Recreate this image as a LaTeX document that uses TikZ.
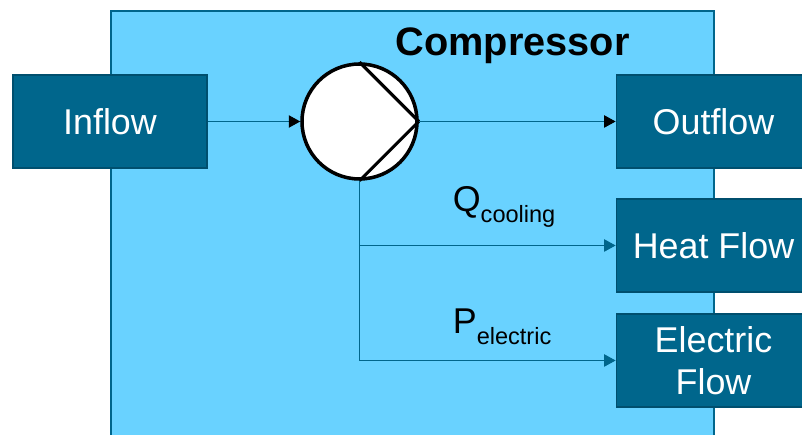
\documentclass[tikz,border=0pt]{standalone}
\usepackage{fontspec}
\setmainfont{Liberation Sans}
\usepackage{tikz}
\usetikzlibrary{arrows.meta}
\definecolor{compfill}{HTML}{69D2FF}
\definecolor{flowfill}{HTML}{00668C}
\definecolor{flowedge}{HTML}{004F6E}
\newcommand{\flowsub}[2]{#1\raisebox{-0.3em}{\fontsize{13.4}{16}\selectfont #2}}
\tikzset{
  flowbox/.style={draw=flowedge,line width=1pt,fill=flowfill,text=white,minimum width=3.88cm,minimum height=1.86cm,inner sep=0pt,align=center,font=\fontsize{20.4}{24}\selectfont},
  blackflow/.style={draw=flowfill,line width=0.6pt,-{Triangle[length=6.5pt,width=7pt,black]}},
  tealflow/.style={draw=flowfill,line width=0.6pt,-{Triangle[length=6.5pt,width=7pt,flowfill]}},
  sublabel/.style={anchor=base west,inner sep=0pt,font=\fontsize{20.4}{24}\selectfont}
}
\begin{document}
\begin{tikzpicture}
\clip (0,0) rectangle (16.04,8.7);
\draw [draw=flowfill,line width=1pt,fill=compfill] (2.22,-0.5) rectangle (14.28,8.48);
\node [font=\fontsize{22.6}{27}\selectfont\bfseries] (title) at (10.25,7.79) {Compressor};
\node [flowbox] (inflow) at (2.2,6.27) {Inflow};
\node [flowbox] (outflow) at (14.27,6.27) {Outflow};
\node [flowbox] (heatflow) at (14.27,3.79) {Heat Flow};
\node [flowbox] (electricflow) at (14.27,1.49) {Electric\\Flow};
\node [circle,draw=black,line width=2pt,fill=white,minimum size=2.3cm,inner sep=0pt] (pump) at (7.19,6.27) {};
\draw [black,line width=1.8pt,line join=round] (pump.north) -- (pump.east) -- (pump.south);
\draw [blackflow] (inflow.east) -- (pump.west);
\draw [blackflow] (pump.east) -- (outflow.west);
\draw [tealflow] (pump.south) |- (heatflow.west);
\draw [tealflow] (pump.south) |- (electricflow.west);
\node [sublabel] (qcooling) at (9.05,4.46) {\flowsub{Q}{cooling}};
\node [sublabel] (pelectric) at (9.05,2.03) {\flowsub{P}{electric}};
\end{tikzpicture}
\end{document}
